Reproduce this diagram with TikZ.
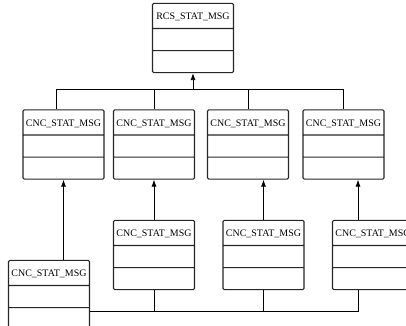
\documentclass[tikz,border=0pt]{standalone}
\usepackage{fontspec}
\setmainfont{Liberation Serif}
\usetikzlibrary{arrows.meta, shapes.multipart}

\newcommand{\msghead}[1]{\rule[-0.25cm]{0pt}{0.72cm}#1}

\begin{document}
\begin{tikzpicture}[
  x=0.03cm, y=-0.03cm,
  msg/.style={rectangle split, rectangle split parts=3, draw=black!85, line width=0.9pt, rounded corners=1pt,
    minimum width=2.43cm, inner xsep=1pt, inner ysep=0pt,
    rectangle split empty part height=0.63cm, rectangle split empty part depth=0pt,
    font=\fontsize{8.5}{10}\selectfont},
  arr/.style={-{Latex[length=2.1mm, width=1.5mm]}, line width=0.7pt},
  wire/.style={line width=0.7pt}
]
\useasboundingbox (0,0) rectangle (406,326);
\clip (0,0) rectangle (406,326);

\node[msg] (rcs) at (193,38) {\msghead{RCS\_STAT\_MSG}\nodepart{two}\nodepart{three}};

\node[msg] (cnc1) at (63.5,144.5) {\msghead{CNC\_STAT\_MSG}\nodepart{two}\nodepart{three}};
\node[msg] (cnc2) at (154,144.5)  {\msghead{CNC\_STAT\_MSG}\nodepart{two}\nodepart{three}};
\node[msg] (cnc3) at (248,144.5)  {\msghead{CNC\_STAT\_MSG}\nodepart{two}\nodepart{three}};
\node[msg] (cnc4) at (343.5,144.5) {\msghead{CNC\_STAT\_MSG}\nodepart{two}\nodepart{three}};

\node[msg] (suba) at (49,295)    {\msghead{CNC\_STAT\_MSG}\nodepart{two}\nodepart{three}};
\node[msg] (subb) at (154,255)   {\msghead{CNC\_STAT\_MSG}\nodepart{two}\nodepart{three}};
\node[msg] (subc) at (263.5,255) {\msghead{CNC\_STAT\_MSG}\nodepart{two}\nodepart{three}};
\node[msg] (subd) at (373,255)   {\msghead{CNC\_STAT\_MSG}\nodepart{two}\nodepart{three}};

\coordinate (topbus) at (0,89);
\coordinate (lowbus) at (0,311);

% upper level
\draw[wire] ([xshift=-0.2cm]cnc1.north) -- ([xshift=-0.2cm]cnc1.north |- topbus) -- (cnc4.north |- topbus) -- (cnc4.north);
\draw[wire] (cnc2.north) -- (cnc2.north |- topbus);
\draw[wire] (cnc3.north) -- (cnc3.north |- topbus);
\draw[arr] (rcs.south |- topbus) -- (rcs.south);

% lower level
\draw[arr] (cnc1.south |- suba.north) -- (cnc1.south);
\draw[arr] (subb.north) -- (cnc2.south);
\draw[arr] (subc.north) -- (subc.north |- cnc3.south);
\draw[arr] ([xshift=-0.45cm]subd.north) -- ([xshift=-0.45cm]subd.north |- cnc4.south);

\draw[wire] (suba.east |- lowbus) -- ([xshift=-0.45cm]subd.south |- lowbus) -- ([xshift=-0.45cm]subd.south);
\draw[wire] (subb.south) -- (subb.south |- lowbus);
\draw[wire] (subc.south) -- (subc.south |- lowbus);
\end{tikzpicture}
\end{document}
